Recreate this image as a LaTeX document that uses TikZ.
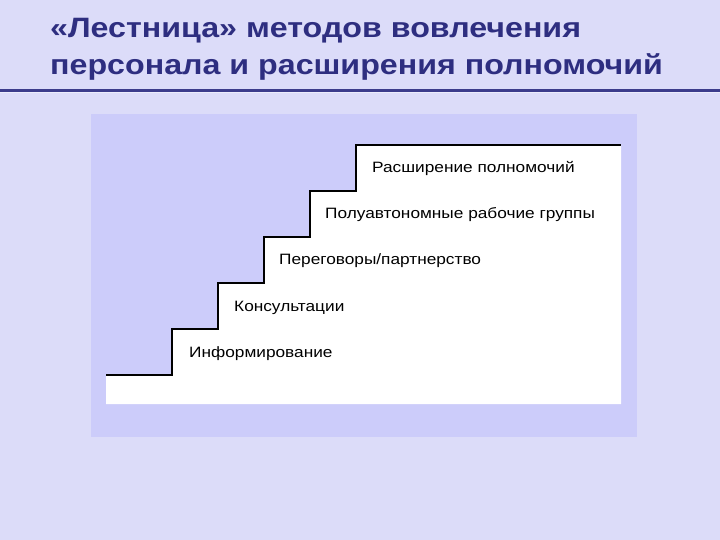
\documentclass[tikz,border=0pt]{standalone}
\usepackage{fontspec}
\setmainfont{Liberation Sans}
\newfontfamily\widefont[FakeStretch=1.15]{Liberation Sans}
\definecolor{bgcol}{RGB}{220,220,249}
\definecolor{panelcol}{RGB}{204,204,250}
\definecolor{titlecol}{RGB}{46,46,128}
\definecolor{rulecol}{RGB}{60,60,140}
\definecolor{rulelight}{RGB}{236,236,252}
\tikzset{
  titletext/.style={anchor=base west,inner sep=0pt,text=titlecol,font=\widefont\fontsize{28bp}{32bp}\selectfont\bfseries},
  steptext/.style={anchor=base west,inner sep=0pt,font=\widefont\fontsize{15bp}{18bp}\selectfont},
}
\begin{document}
\begin{tikzpicture}[x=1bp,y=-1bp]
\useasboundingbox (0,0) rectangle (720,540);
\fill[bgcol] (0,0) rectangle (720,540);
\node[titletext] (t1) at (50,38) {«Лестница» методов вовлечения};
\node[titletext] (t2) at (50,74.5) {персонала и расширения полномочий};
\fill[rulecol] (0,89) rectangle (720,92);
\fill[rulelight] (0,92) rectangle (720,93.5);
\fill[panelcol] (91,114) rectangle (637,437);
\fill[white] (106,375) -| (172,329) -| (218,283) -| (264,237) -| (310,191) -| (356,145) -| (621,404) -- (106,404) -- cycle;
\draw[line width=1.3bp] (172,375) |- (218,329) |- (264,283) |- (310,237) |- (356,191) |- (621,145);
\draw[line width=2.2bp] (106,375) -- (172.6,375);
\node[steptext] (s5) at (372,173) {Расширение полномочий};
\node[steptext] (s4) at (325,219) {Полуавтономные рабочие группы};
\node[steptext] (s3) at (279,265) {Переговоры/партнерство};
\node[steptext] (s2) at (234,311) {Консультации};
\node[steptext] (s1) at (189,357) {Информирование};
\end{tikzpicture}
\end{document}
